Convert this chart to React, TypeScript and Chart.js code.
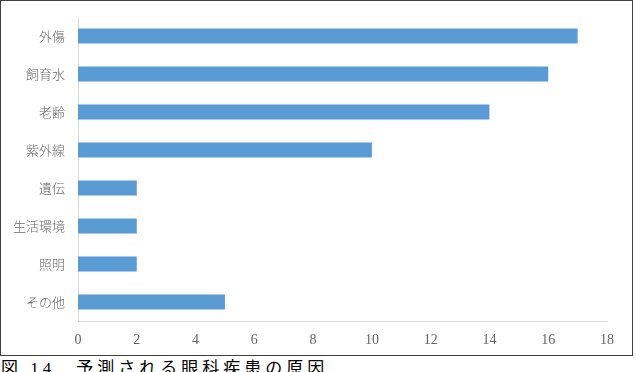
import React, { useEffect, useRef } from "react";
import { Chart, registerables } from "chart.js";

Chart.register(...registerables);

const categories = ["外傷", "飼育水", "老齢", "紫外線", "遺伝", "生活環境", "照明", "その他"];
const counts = [17, 16, 14, 10, 2, 2, 2, 5];
const xTicks = [0, 2, 4, 6, 8, 10, 12, 14, 16, 18];
const caption = "図 14　予測される眼科疾患の原因";

export default function App() {
  const ref = useRef<HTMLCanvasElement | null>(null);

  useEffect(() => {
    document.body.style.margin = "0";
    const ctx = ref.current!;
    const xFont = { family: "'Liberation Serif', 'DejaVu Serif', serif", size: 14 };
    const yFont = { family: "'Noto Sans CJK JP', serif", size: 13, weight: "300" as any };
    const chart = new Chart(ctx, {
      type: "bar",
      data: {
        labels: categories,
        datasets: [
          {
            data: counts,
            backgroundColor: "#5B9BD5",
            borderWidth: 0,
            barPercentage: 0.4,
            categoryPercentage: 1,
          },
        ],
      },
      options: {
        indexAxis: "y",
        animation: false,
        responsive: false,
        maintainAspectRatio: false,
        layout: { padding: { left: 0, top: 16, right: 25, bottom: 0 } },
        plugins: { legend: { display: false }, tooltip: { enabled: false } },
        scales: {
          x: {
            min: 0,
            max: 18,
            afterBuildTicks: (s: any) => {
              s.ticks = xTicks.map((v) => ({ value: v }));
            },
            grid: { display: false, drawTicks: false },
            border: { display: true, color: "#d9d9d9", width: 1 },
            ticks: { color: "#666666", font: xFont, padding: 11 },
            afterFit: (s: any) => {
              s.height = 34;
            },
          },
          y: {
            grid: { display: false, drawTicks: false },
            border: { display: true, color: "#d9d9d9", width: 1 },
            ticks: { color: "#6a6a6a", font: yFont, padding: 13 },
            afterFit: (s: any) => {
              s.width = 77;
              s.paddingTop = 0;
              s.paddingBottom = 0;
            },
          },
        },
      },
    });
    return () => chart.destroy();
  }, []);

  return (
    <div style={{ position: "fixed", left: 0, top: 0, width: 636, height: 372, background: "#fff", overflow: "hidden" }}>
      <div
        style={{
          position: "absolute",
          left: 0,
          top: 0,
          width: 631,
          height: 354,
          border: "1.5px solid #404040",
        }}
      >
        <canvas ref={ref} width={631} height={354} style={{ display: "block", width: 631, height: 354 }} />
      </div>
      <div
        style={{
          position: "absolute",
          left: 1,
          top: 359,
          fontFamily: "'Liberation Serif', 'Noto Sans CJK JP', serif",
          fontSize: 17,
          letterSpacing: 4,
          color: "#000",
          whiteSpace: "nowrap",
          lineHeight: "20px",
        }}
      >
        {caption}
      </div>
    </div>
  );
}
